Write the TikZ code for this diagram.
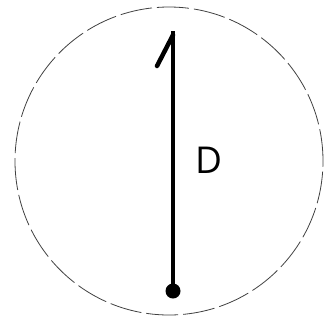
\documentclass[tikz,border=0pt]{standalone}
\usepackage{fontspec}
\setmainfont{Open Sans}
\begin{document}
\begin{tikzpicture}[x=1pt,y=-1pt,
  outline/.style={draw=black!75,line width=0.8pt,dash pattern=on 32pt off 5pt},
  shaft/.style={line width=4.5pt},
  lbl/.style={font=\fontsize{37}{40}\selectfont, inner sep=0pt}]
\useasboundingbox (0,0) rectangle (326,322);
\node[circle,minimum size=308pt,outline,inner sep=0pt] (c) at (169,161) {};
\coordinate (top) at (173,31);
\coordinate (hook) at (157,66);
\node[circle,fill=black,minimum size=15pt,inner sep=0pt] (dot) at (173,291) {};
\draw[shaft] (top) -- (dot.center);
\draw[line width=4.5pt,line cap=round] (top) ++(0,4) -- (hook);
\node[lbl] (d) at (209,160) {D};
\end{tikzpicture}
\end{document}
